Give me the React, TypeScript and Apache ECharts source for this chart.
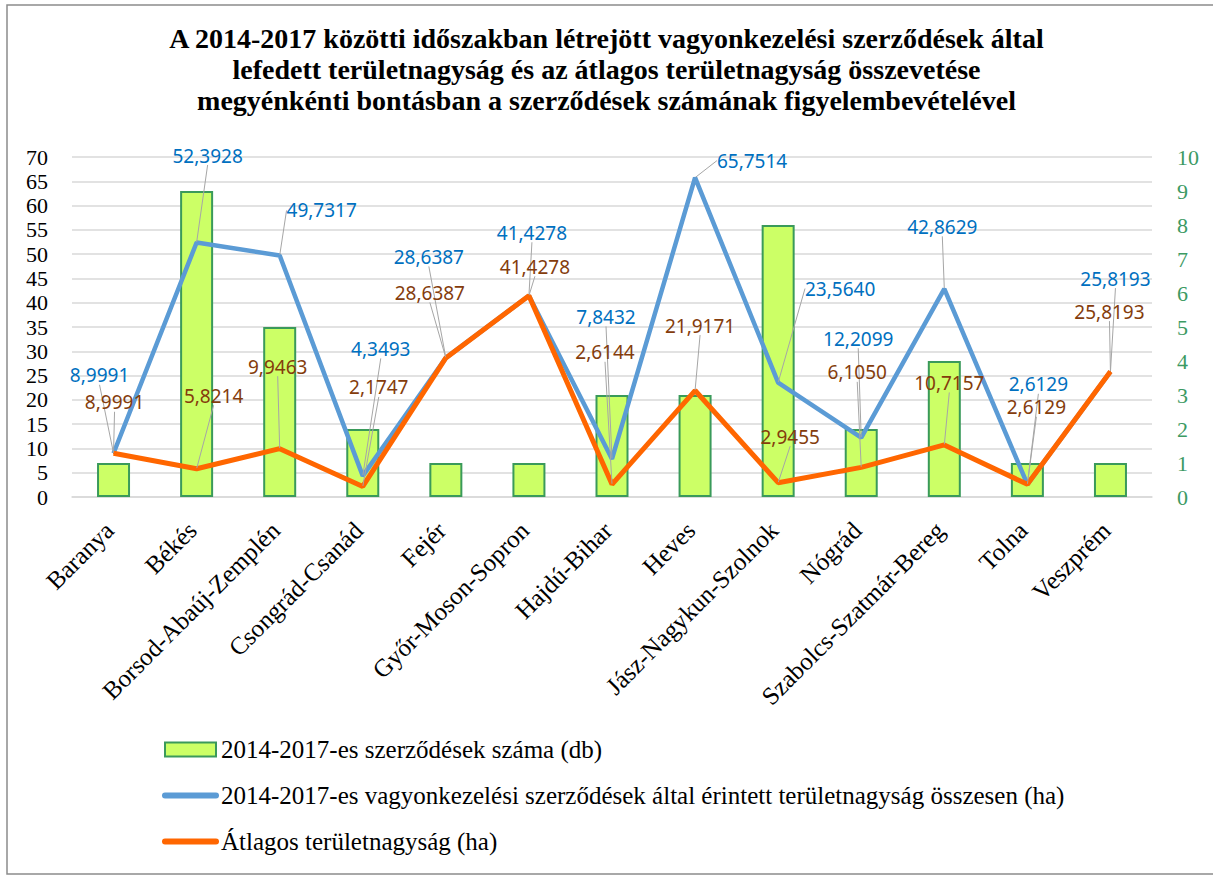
import React, { useEffect, useRef } from "react";
import * as echarts from "echarts";

const categories = [
  "Baranya",
  "Békés",
  "Borsod-Abaúj-Zemplén",
  "Csongrád-Csanád",
  "Fejér",
  "Győr-Moson-Sopron",
  "Hajdú-Bihar",
  "Heves",
  "Jász-Nagykun-Szolnok",
  "Nógrád",
  "Szabolcs-Szatmár-Bereg",
  "Tolna",
  "Veszprém",
];
const contractCounts = [1, 9, 5, 2, 1, 1, 3, 3, 8, 2, 4, 1, 1];
const totalArea = [
  8.9991, 52.3928, 49.7317, 4.3493, 28.6387, 41.4278, 7.8432, 65.7514, 23.564,
  12.2099, 42.8629, 2.6129, 25.8193,
];
const avgArea = [
  8.9991, 5.8214, 9.9463, 2.1747, 28.6387, 41.4278, 2.6144, 21.9171, 2.9455,
  6.105, 10.7157, 2.6129, 25.8193,
];
const leftTicks = { min: 0, max: 70, interval: 5 };
const rightTicks = { min: 0, max: 10, interval: 1 };

const seriesNames = [
  "2014-2017-es szerződések száma (db)",
  "2014-2017-es vagyonkezelési szerződések által érintett területnagyság összesen (ha)",
  "Átlagos területnagyság (ha)",
];
const titleText =
  "A 2014-2017 közötti időszakban létrejött vagyonkezelési szerződések által\nlefedett területnagyság és az átlagos területnagyság összevetése\nmegyénkénti bontásban a szerződések számának figyelembevételével";

// label offsets (pixels, from point to label centre)
const totalLabelOffsets = [
  [-14, -78], [11, -87], [42, -45], [18, -127], [-17, -101], [3, -63],
  [-6, -142], [57, -17], [62, -94], [-3, -99], [-2, -62], [11, -100], [5, -93],
];
const avgLabelOffsets = [
  [1, -51], [17, -73], [-2, -82], [16, -99], [-16, -65], [6, -29],
  [-7, -132], [5, -65], [12, -46], [-4, -95], [5, -62], [9, -77], [-1, -60],
];

const fmt = (v: number) => v.toFixed(4).replace(".", ",");
const SERIF = "'Liberation Serif', 'DejaVu Serif', serif";
const SANS = "'Noto Sans', 'Open Sans', sans-serif";

export default function App() {
  const ref = useRef<HTMLDivElement>(null);
  useEffect(() => {
    if (!ref.current) return;
    const chart = echarts.init(ref.current, null, { renderer: "svg" });
    const lineLabel = (color: string) => ({
      show: true,
      position: "inside",
      color,
      fontFamily: SANS,
      fontSize: 19,
      textBorderWidth: 0,
      textBorderColor: "transparent",
      formatter: (p: any) => fmt(p.value),
    });
    const labelLine = {
      show: true,
      lineStyle: { color: "#A6A6A6", width: 1 },
    };
    chart.setOption({
      animation: false,
      backgroundColor: "#ffffff",
      title: {
        text: titleText,
        left: "center",
        top: 23,
        padding: 0,
        textStyle: {
          fontFamily: SERIF,
          fontWeight: "bold",
          fontSize: 28,
          lineHeight: 31,
          color: "#000",
        },
      },
      graphic: [
        {
          type: "rect",
          shape: { x: 7, y: 5, width: 1220, height: 869 },
          style: { fill: "none", stroke: "#8C8C8C", lineWidth: 1.5 },
          silent: true,
          z: -1,
        },
      ],
      legend: {
        orient: "vertical",
        left: 162,
        top: 737,
        padding: 0,
        itemWidth: 51,
        itemHeight: 14,
        itemGap: 21,
        textStyle: { fontFamily: SERIF, fontSize: 25, color: "#000" },
        data: [
          { name: seriesNames[0], icon: "rect" },
          {
            name: seriesNames[1],
            itemStyle: { opacity: 0 },
            lineStyle: { width: 6, cap: "round" },
          },
          {
            name: seriesNames[2],
            itemStyle: { opacity: 0 },
            lineStyle: { width: 6, cap: "round" },
          },
        ],
      },
      grid: { left: 72, right: 61, top: 157, bottom: 380, containLabel: false },
      xAxis: {
        type: "category",
        data: categories,
        axisTick: { show: false },
        axisLine: { lineStyle: { color: "#D9D9D9", width: 1.5 } },
        axisLabel: {
          rotate: 45,
          margin: 25,
          padding: [0, 6, 0, 0],
          interval: 0,
          fontFamily: SERIF,
          fontSize: 25,
          color: "#000",
        },
      },
      yAxis: [
        {
          type: "value",
          ...leftTicks,
          axisLine: { show: false },
          axisTick: { show: false },
          splitLine: { lineStyle: { color: "#D9D9D9", width: 1.5 } },
          axisLabel: {
            margin: 24,
            fontFamily: SERIF,
            fontSize: 22,
            color: "#000",
          },
        },
        {
          type: "value",
          ...rightTicks,
          position: "right",
          axisLine: { show: false },
          axisTick: { show: false },
          splitLine: { show: false },
          axisLabel: {
            margin: 25,
            fontFamily: SERIF,
            fontSize: 22,
            color: "#3C9A63",
          },
        },
      ],
      series: [
        {
          name: seriesNames[0],
          type: "bar",
          yAxisIndex: 1,
          data: contractCounts,
          barWidth: 33,
          itemStyle: {
            color: "#CCFF66",
            borderColor: "#3A9A5A",
            borderWidth: 2,
          },
          z: 1,
        },
        {
          name: seriesNames[1],
          type: "line",
          yAxisIndex: 0,
          data: totalArea,
          symbol: "circle",
          symbolSize: 1,
          itemStyle: { color: "#5B9BD5" },
          lineStyle: { color: "#5B9BD5", width: 4.5 },
          label: lineLabel("#0070C0"),
          labelLine,
          labelLayout: (p: any) => ({
            dx: totalLabelOffsets[p.dataIndex][0],
            dy: totalLabelOffsets[p.dataIndex][1],
          }),
          z: 3,
        },
        {
          name: seriesNames[2],
          type: "line",
          yAxisIndex: 0,
          data: avgArea,
          symbol: "circle",
          symbolSize: 1,
          itemStyle: { color: "#FF6600" },
          lineStyle: { color: "#FF6600", width: 5 },
          label: lineLabel("#843C0C"),
          labelLine,
          labelLayout: (p: any) => ({
            dx: avgLabelOffsets[p.dataIndex][0],
            dy: avgLabelOffsets[p.dataIndex][1],
          }),
          z: 4,
        },
      ],
    });
    return () => chart.dispose();
  }, []);
  return (
    <div
      ref={ref}
      style={{ position: "fixed", left: 0, top: 0, width: 1213, height: 877 }}
    />
  );
}
